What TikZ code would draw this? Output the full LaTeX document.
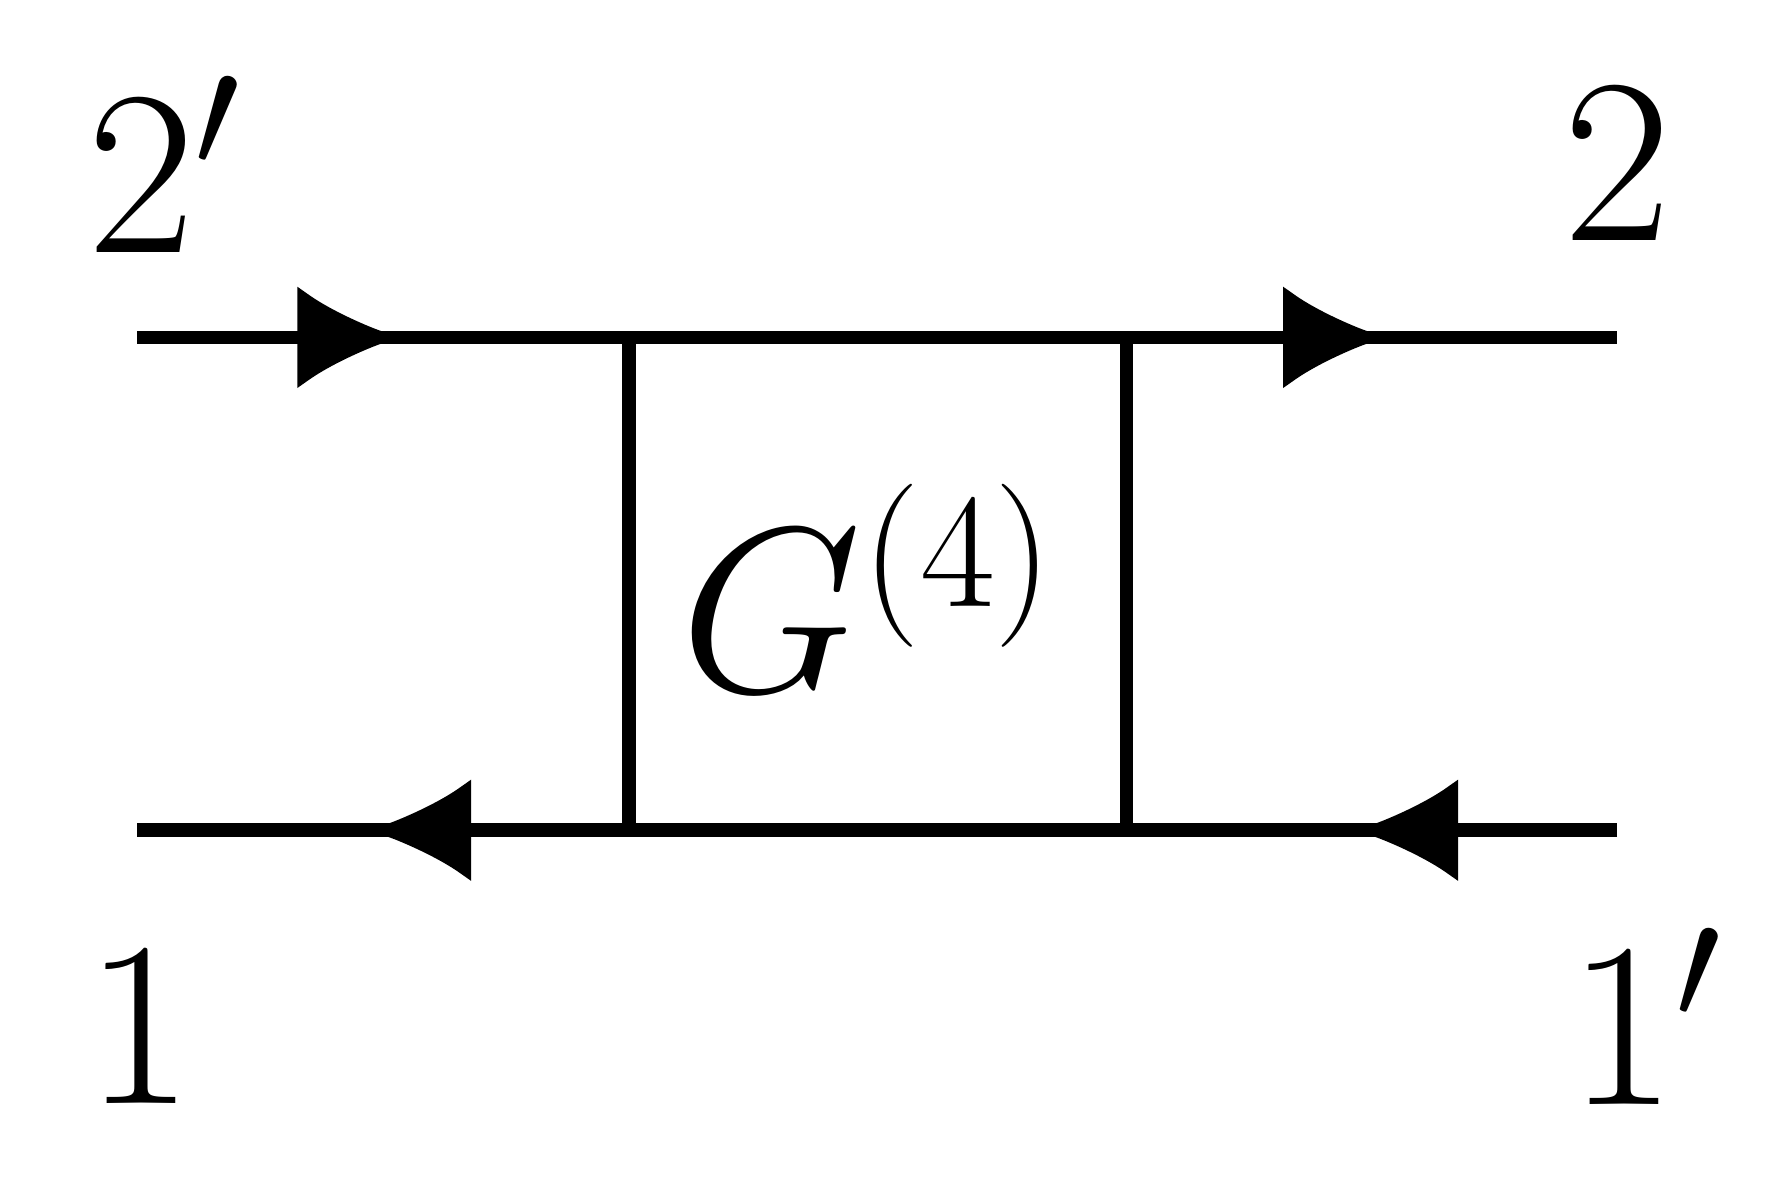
\documentclass[tikz,border=0pt]{standalone}
\usepackage{amsmath}
\usepackage{tikz}
\usetikzlibrary{arrows.meta}

\tikzset{
  fline/.style={line width=3.4pt},
  farrow/.style={line width=3.4pt,-{Latex[length=0.9cm,width=0.9cm]}},
  lbl/.style={font=\fontsize{25}{30}\selectfont, scale=2.35, transform shape, inner sep=0pt}
}

\begin{document}
\begin{tikzpicture}
\useasboundingbox (0,0) rectangle (15.6,10.44);
% corners of the vertex box
\coordinate (tl) at (5.5,7.49);
\coordinate (tr) at (9.85,7.49);
\coordinate (bl) at (5.5,3.18);
\coordinate (br) at (9.85,3.18);
% outer ends
\coordinate (inL) at (1.2,7.49);
\coordinate (outR) at (14.14,7.49);
\coordinate (outL) at (1.2,3.18);
\coordinate (inR) at (14.14,3.18);
% arrow tips
\coordinate (a1) at (3.5,7.49);
\coordinate (a2) at (12.12,7.49);
\coordinate (a3) at (3.22,3.18);
\coordinate (a4) at (11.85,3.18);
\draw[fline] (inL) -- (outR);
\draw[fline] (outL) -- (inR);
\draw[fline] (tl) -- (bl);
\draw[fline] (tr) -- (br);
\draw[farrow] (inL) -- (a1);
\draw[farrow] (tr) -- (a2);
\draw[farrow] (bl) -- (a3);
\draw[farrow] (inR) -- (a4);
% labels
\node[lbl] (n2p) at (1.45,9.0) {$2'$};
\node[lbl] (n2) at (14.14,9.0) {$2$};
\node[lbl] (n1) at (1.22,1.45) {$1$};
\node[lbl] (n1p) at (14.4,1.55) {$1'$};
\node[lbl] (g4) at (7.6,5.3) {$G^{(4)}$};
\end{tikzpicture}
\end{document}
